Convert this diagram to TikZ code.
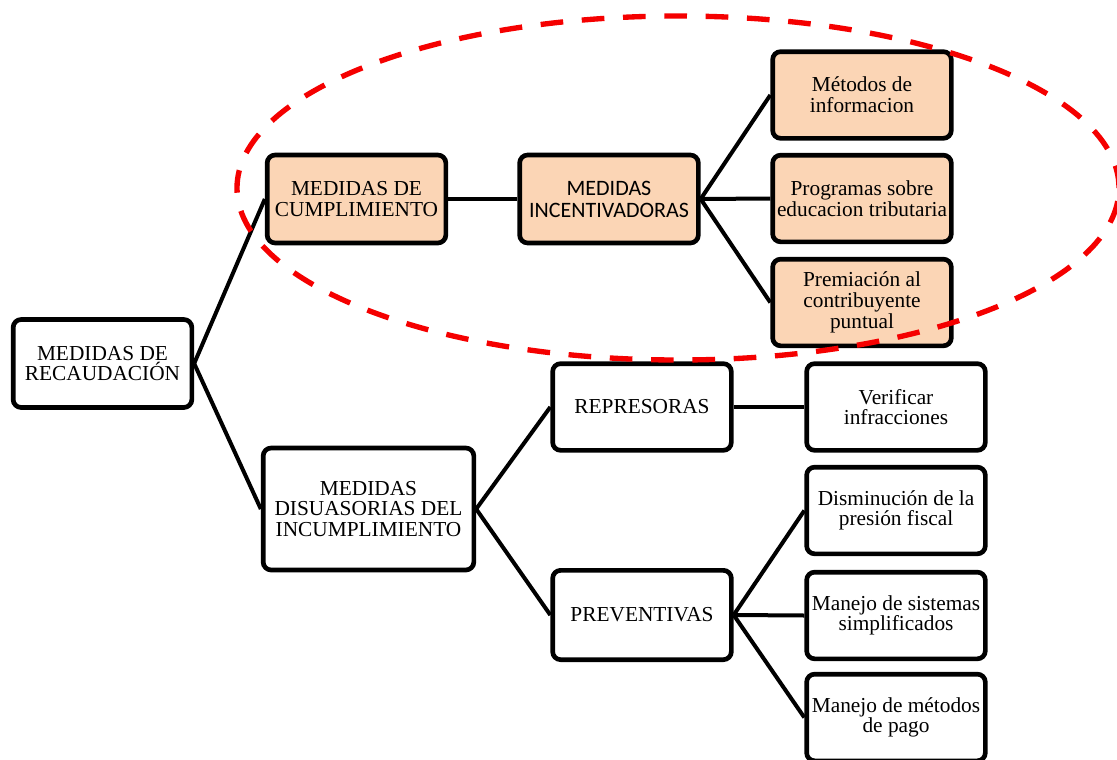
\documentclass[tikz,border=0pt]{standalone}
\usepackage{fontspec}
\setmainfont{Liberation Serif}
\newfontfamily\calibri{Carlito}
\definecolor{peach}{RGB}{251,213,181}
\definecolor{marcoRojo}{RGB}{245,0,0}
\begin{document}
\begin{tikzpicture}[x=0.75pt,y=-0.75pt,
    caja/.style={draw,line width=3.5pt,rounded corners=6pt,align=center,inner sep=0pt,
        minimum width=134pt,minimum height=66pt,font=\fontsize{16}{15.5}\selectfont},
    naranja/.style={caja,fill=peach},
    rama/.style={line width=3pt}]
    \useasboundingbox (0,0) rectangle (1117,760);
    % medidas de cumplimiento
    \node[caja] (recaud) at (102.5,363.5) {MEDIDAS DE\\RECAUDACIÓN};
    \node[naranja] (cumpl) at (356.5,199) {MEDIDAS DE\\CUMPLIMIENTO};
    \node[naranja,font=\calibri\fontsize{16.5}{16.5}\selectfont] (incent) at (609,199) {MEDIDAS\\INCENTIVADORAS};
    \node[naranja,minimum height=65pt] (metodos) at (862,95) {Métodos de\\informacion};
    \node[naranja,minimum height=65pt] (programas) at (862,198.5) {Programas sobre\\educacion tributaria};
    \node[naranja,minimum height=65pt] (premio) at (862,302.5) {Premiación al\\contribuyente\\puntual};
    % medidas disuasorias
    \node[caja,minimum width=158pt,minimum height=91.5pt] (disuas) at (368.5,509) {MEDIDAS\\DISUASORIAS DEL\\INCUMPLIMIENTO};
    \node[caja,minimum height=65pt] (repres) at (642,407) {REPRESORAS};
    \node[caja,minimum height=67pt] (prev) at (642,615) {PREVENTIVAS};
    \node[caja,minimum height=65pt] (verif) at (896,407) {Verificar\\infracciones};
    \node[caja,minimum height=65pt] (dismin) at (896,510.5) {Disminución de la\\presión fiscal};
    \node[caja,minimum height=65pt] (sistemas) at (896,615.5) {Manejo de sistemas\\simplificados};
    \node[caja,minimum height=65pt] (pago) at (896,717.5) {Manejo de métodos\\de pago};
    % ramas
    \draw[rama] (recaud.east) -- (cumpl.west);
    \draw[rama] (recaud.east) -- (disuas.west);
    \draw[rama] (cumpl.east) -- (incent.west);
    \draw[rama] (incent.east) -- (metodos.west);
    \draw[rama] (incent.east) -- (programas.west);
    \draw[rama] (incent.east) -- (premio.west);
    \draw[rama] (disuas.east) -- (repres.west);
    \draw[rama] (disuas.east) -- (prev.west);
    \draw[rama] (repres.east) -- (verif.west);
    \draw[rama] (prev.east) -- (dismin.west);
    \draw[rama] (prev.east) -- (sistemas.west);
    \draw[rama] (prev.east) -- (pago.west);
    % elipse
    \draw[marcoRojo,line width=4pt,dash pattern=on 17pt off 14pt] (678,188) ellipse [x radius=330.75pt,y radius=129pt];
\end{tikzpicture}
\end{document}
